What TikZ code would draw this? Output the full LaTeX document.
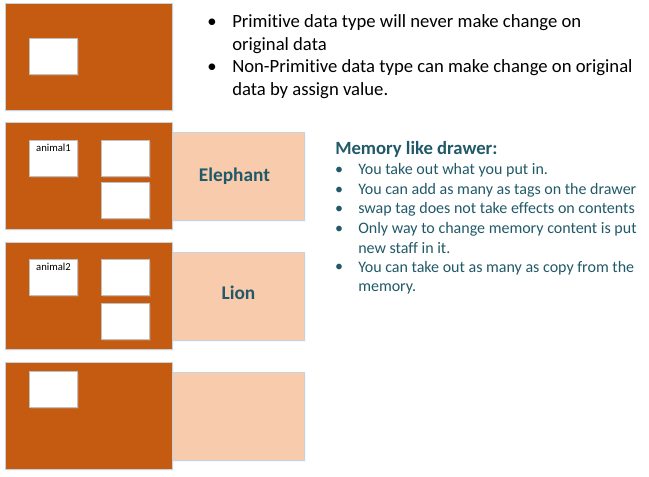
\documentclass[tikz,border=0pt]{standalone}
\usepackage{fontspec}
\setmainfont{Carlito}[Ligatures=NoCommon]
\usetikzlibrary{positioning,shadows}
\definecolor{mdorange}{HTML}{C55A11}
\definecolor{mdpeach}{HTML}{F8CBAD}
\definecolor{mdteal}{HTML}{215968}
\definecolor{mdedge}{HTML}{C8D2DC}
\definecolor{mdtagedge}{HTML}{BFBFBF}
\tikzset{
  softshadow/.style = {drop shadow={opacity=0.18, fill=mdedge,
                       shadow xshift=0.8pt, shadow yshift=-0.8pt}},
  drawerbox/.style  = {draw=mdedge, fill=mdorange, line width=0.75pt,
                       inner sep=0pt, anchor=north west, softshadow,
                       minimum width=125.25pt, minimum height=80.25pt},
  content/.style    = {draw=mdedge, fill=mdpeach, line width=0.75pt,
                       inner sep=0pt, anchor=north west, softshadow,
                       minimum width=99pt, minimum height=66pt,
                       font=\fontsize{14.5}{16}\selectfont\bfseries,
                       text=mdteal},
  tagbox/.style     = {draw=mdtagedge, fill=white, line width=0.75pt,
                       inner sep=0pt, anchor=north west, softshadow,
                       minimum width=36pt, minimum height=27pt},
  taglbl/.style     = {font=\fontsize{8}{9}\selectfont, inner sep=0pt},
  %
  pointtxt/.style   = {anchor=base west, align=left, inner sep=0pt,
                       font=\fontsize{14}{16.9}\selectfont},
  pointbul/.style   = {anchor=base, inner sep=0pt,
                       font=\fontsize{14}{16.9}\selectfont},
  headtxt/.style    = {anchor=base west, inner sep=0pt, text=mdteal,
                       font=\fontsize{14}{16}\selectfont\bfseries},
  memtxt/.style     = {anchor=base west, align=left, inner sep=0pt,
                       text=mdteal, font=\fontsize{12}{14.6}\selectfont},
  membul/.style     = {anchor=base, inner sep=0pt, text=mdteal,
                       font=\fontsize{12}{14.6}\selectfont},
}
\begin{document}
\begin{tikzpicture}[x=0.75pt, y=-0.75pt]
  \useasboundingbox (0,0) rectangle (649,477);

  % ---------- drawer 1: primitive -----------------------------------------
  \node[drawerbox] (d1) at (5,3) {};
  \node[tagbox] (t11) at (29,38) {};

  % ---------- drawer 2: elephant ------------------------------------------
  \node[content] (c2) at (172,132) {};
  \node[text=mdteal, font=\fontsize{14.5}{16}\selectfont\bfseries]
    (l2) at ([xshift=-3pt]c2.center) {Elephant};
  \node[drawerbox] (d2) at (5,122) {};
  \node[tagbox] (t21) at (29,140) {};
  \node[taglbl, below=3pt of t21.north] {animal1};
  \node[tagbox] (t22) at (101,140) {};
  \node[tagbox] (t23) at (101,182) {};

  % ---------- drawer 3: lion ----------------------------------------------
  \node[content] (c3) at (172,252) {};
  \node[text=mdteal, font=\fontsize{14.5}{16}\selectfont\bfseries]
    (l3) at ([yshift=3pt]c3.center) {Lion};
  \node[drawerbox] (d3) at (5,242) {};
  \node[tagbox] (t31) at (29,259) {};
  \node[taglbl, below=3pt of t31.north] {animal2};
  \node[tagbox] (t32) at (101,259) {};
  \node[tagbox] (t33) at (101,303) {};

  % ---------- drawer 4: empty ---------------------------------------------
  \node[content] (c4) at (172,372) {};
  \node[drawerbox] (d4) at (5,362) {};
  \node[tagbox] (t41) at (29,371) {};

  % ---------- top notes (anchored on last baseline) -----------------------
  \node[pointbul] (b1) at (212,28) {\textbullet};
  \node[pointtxt] (p1) at (232,50.5)
    {Primitive data type will never make change on\\ original data};
  \node[pointbul] (b2) at (212,73) {\textbullet};
  \node[pointtxt] (p2) at (232,95.5)
    {Non-Primitive data type can make change on original\\ data by assign value.};

  % ---------- memory like drawer ------------------------------------------
  \node[headtxt] (mh) at (335,155) {Memory like drawer:};
  \node[membul] (m1b) at (339,175) {\textbullet};
  \node[memtxt] (m1) at (358,175) {You take out what you put in.};
  \node[membul] (m2b) at (339,194.5) {\textbullet};
  \node[memtxt] (m2) at (358,194.5) {You can add as many as tags on the drawer};
  \node[membul] (m3b) at (339,214) {\textbullet};
  \node[memtxt] (m3) at (358,214) {swap tag does not take effects on contents};
  \node[membul] (m4b) at (339,233.5) {\textbullet};
  \node[memtxt] (m4) at (358,253)
    {Only way to change memory content is put\\ new staff in it.};
  \node[membul] (m5b) at (339,272) {\textbullet};
  \node[memtxt] (m5) at (358,291.5)
    {You can take out as many as copy from the\\ memory.};

\end{tikzpicture}
\end{document}
